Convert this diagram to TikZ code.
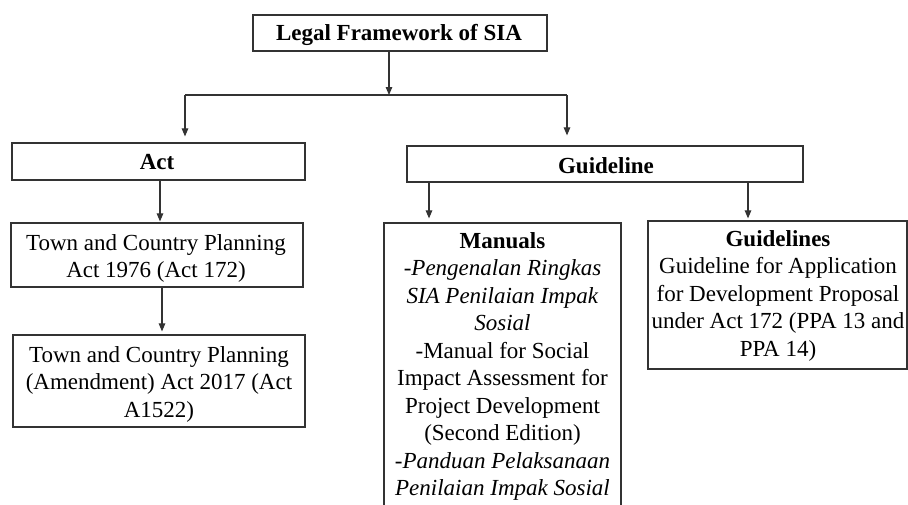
\documentclass[tikz,border=0pt]{standalone}
\usepackage{fontspec}
\setmainfont{Liberation Serif}
\usetikzlibrary{arrows.meta}
\definecolor{linec}{HTML}{333333}
\tikzset{
  boxnode/.style={draw=linec, line width=1.2pt, inner sep=0pt, fill=none},
  txt/.style={align=center, inner sep=0pt, anchor=north, text=black,
    font=\fontsize{23}{27.5}\selectfont},
  arr/.style={-{Triangle[length=8pt,width=6.5pt]}, line width=1.1pt, draw=linec},
  plain/.style={line width=1.1pt, draw=linec}
}
\begin{document}
\begin{tikzpicture}[x=1pt,y=-1pt]
\clip (0,0) rectangle (908,504);
\fill[white] (0,0) rectangle (908,504);
% boxes
\node[boxnode, minimum width=294pt, minimum height=36pt] (top) at (400,33) {};
\node[boxnode, minimum width=293pt, minimum height=37pt] (act) at (158.5,161.5) {};
\node[boxnode, minimum width=396pt, minimum height=36pt] (guide) at (605,164) {};
\node[boxnode, minimum width=292pt, minimum height=64pt] (town1) at (157,255) {};
\node[boxnode, minimum width=292pt, minimum height=92pt] (town2) at (159,381) {};
\node[boxnode, minimum width=237pt, minimum height=300pt] (manuals) at (502.5,373) {};
\node[boxnode, minimum width=259pt, minimum height=148pt] (guidelines) at (777.5,295) {};
% texts
\node[txt] (toptext) at (399,24) {\textbf{Legal Framework of SIA}};
\node[txt] (acttext) at (157,154) {\textbf{Act}};
\node[txt] (guidetext) at (606,157) {\textbf{Guideline}};
\node[txt] (town1text) at (156,234) {Town and Country Planning\\Act 1976 (Act 172)};
\node[txt] (town2text) at (159,346) {Town and Country Planning\\(Amendment) Act 2017 (Act\\A1522)};
\node[txt] (manualstext) at (502.5,232) {\textbf{Manuals}\\\textit{-Pengenalan Ringkas}\\\textit{SIA Penilaian Impak}\\\textit{Sosial}\\-Manual for Social\\Impact Assessment for\\Project Development\\(Second Edition)\\\textit{-Panduan Pelaksanaan}\\\textit{Penilaian Impak Sosial}};
\node[txt] (guidelinestext) at (778,230) {\textbf{Guidelines}\\Guideline for Application\\for Development Proposal\\under Act 172 (PPA 13 and\\PPA 14)};
% connector points
\coordinate (split) at (389,95);
\coordinate (lft) at (185,95);
\coordinate (rgt) at (567,95);
% connectors
\draw[arr] (top.south -| split) -- (split);
\draw[plain] (lft) -- (rgt);
\draw[arr, shorten >=6pt] (lft) -- (act.north -| lft);
\draw[arr, shorten >=10pt] (rgt) -- (guide.north -| rgt);
\draw[arr, shorten >=1pt] (act.south -| 160,0) -- (town1.north -| 160,0);
\draw[arr, shorten >=3pt] (town1.south -| 162,0) -- (town2.north -| 162,0);
\draw[arr, shorten >=4pt] (guide.south -| 429,0) -- (manuals.north -| 429,0);
\draw[arr, shorten >=2pt] (guide.south -| 748,0) -- (guidelines.north -| 748,0);
\end{tikzpicture}
\end{document}
